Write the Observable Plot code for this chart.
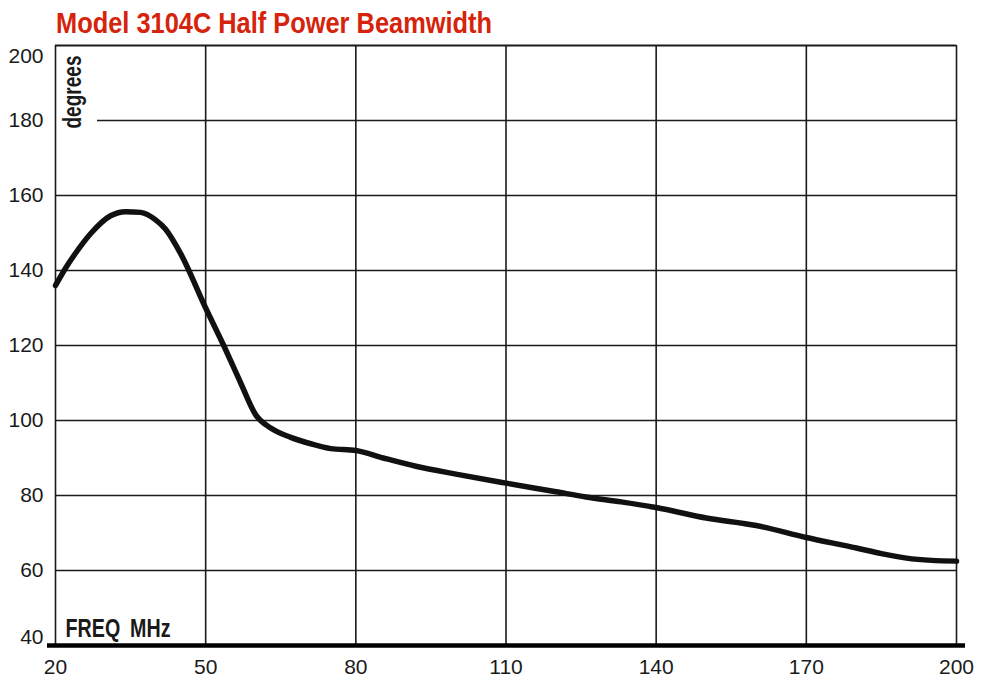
<!DOCTYPE html>
<html>
<head>
<meta charset="utf-8">
<script src="https://cdn.jsdelivr.net/npm/d3@7"></script>
<script src="https://cdn.jsdelivr.net/npm/@observablehq/plot@0.6"></script>
<style>
  html, body { margin: 0; padding: 0; background: #fff; }
  #title {
    box-sizing: border-box;
    height: 40px;
    padding: 8px 0 0 56px;
    font-family: "Liberation Sans", Arial, sans-serif;
    font-weight: bold;
    font-size: 30px;
    line-height: 30px;
    color: #d6230b;
    white-space: nowrap;
  }
  #title span { display: inline-block; transform-origin: 0 0; }
</style>
</head>
<body>
<div id="title"><span>Model 3104C Half Power Beamwidth</span></div>
<div id="chart"></div>
<script>
const freq = [20, 22, 24, 27, 31, 34, 37, 40, 42, 45, 50, 53.6, 57, 60, 63, 67, 71, 75, 80, 85.5, 92, 100, 110, 120, 126, 133, 140, 150, 160, 170, 180, 185, 190, 195, 200];
const beamwidth = [136, 140.6, 144.6, 149.8, 154.6, 155.7, 155.5, 153.5, 151, 144.5, 130, 120, 110, 101.5, 98, 95.5, 93.8, 92.5, 92, 90, 87.8, 85.7, 83.3, 81, 79.6, 78.3, 76.8, 74, 72, 68.8, 66, 64.5, 63.3, 62.7, 62.5];
const xTicks = [20, 50, 80, 110, 140, 170, 200];
const yTicksMid = [60, 80, 100, 120, 140, 160, 180];
const yTop = [200];
const yBottom = [40];
const xGrid = [20, 50, 80, 110, 140, 170, 200];
const yGridFull = [60, 80, 100, 120, 140, 160];
const yGridShort = [180];

const data = freq.map((f, i) => ({f, v: beamwidth[i]}));
const ink = "#1a1a1a";
const bold = "'Liberation Sans', Arial, sans-serif";

const chart = Plot.plot({
  width: 981,
  height: 642,
  marginLeft: 55,
  marginRight: 25,
  marginTop: 5,
  marginBottom: 37,
  style: {fontFamily: "'Liberation Sans', Arial, sans-serif", background: "#fff", color: ink},
  x: {domain: [20, 200]},
  y: {domain: [40, 200]},
  marks: [
    Plot.ruleX(xGrid, {stroke: ink, strokeWidth: 1.6}),
    Plot.ruleY(yGridFull, {stroke: ink, strokeWidth: 1.6}),
    Plot.ruleY(yGridShort, {stroke: ink, strokeWidth: 1.6, insetLeft: 42}),
    Plot.ruleY(yTop, {stroke: ink, strokeWidth: 2.2}),
    Plot.ruleY(yBottom, {stroke: "#000", strokeWidth: 4.5, insetLeft: -8, insetRight: -9}),
    Plot.line(data, {x: "f", y: "v", curve: "monotone-x", stroke: "#111", strokeWidth: 5.5, strokeLinejoin: "round", strokeLinecap: "round"}),
    Plot.axisX(xTicks, {tickSize: 0, tickPadding: 14, fontSize: 21, fill: ink, label: null}),
    Plot.axisY(yTicksMid, {tickSize: 0, tickPadding: 12, fontSize: 21, fill: ink, label: null}),
    Plot.axisY(yTop, {tickSize: 0, tickPadding: 12, fontSize: 21, fill: ink, label: null, dy: 11}),
    Plot.axisY(yBottom, {tickSize: 0, tickPadding: 12, fontSize: 21, fill: ink, label: null, dy: -8}),
    Plot.text(["degrees"], {className: "lbl-deg", frameAnchor: "top-left", rotate: -90, textAnchor: "end", lineAnchor: "middle", dx: 17.5, dy: 10, fontFamily: bold, fontWeight: "bold", fontSize: 26, fill: ink}),
    Plot.text(["FREQ\u2002MHz"], {className: "lbl-freq", frameAnchor: "bottom-left", textAnchor: "start", lineAnchor: "bottom", dx: 10, dy: -9, fontFamily: bold, fontWeight: "bold", fontSize: 25, fill: ink})
  ]
});
document.getElementById("chart").appendChild(chart);

// condense the bold labels to match the narrow typeface of the original
d3.select(chart).selectAll(".lbl-deg text").attr("textLength", 73).attr("lengthAdjust", "spacingAndGlyphs");
d3.select(chart).selectAll(".lbl-freq text").attr("textLength", 105).attr("lengthAdjust", "spacingAndGlyphs");
const span = document.querySelector("#title span");
const w = span.getBoundingClientRect().width;
span.style.transform = `scaleX(${436 / w})`;
</script>
</body>
</html>
